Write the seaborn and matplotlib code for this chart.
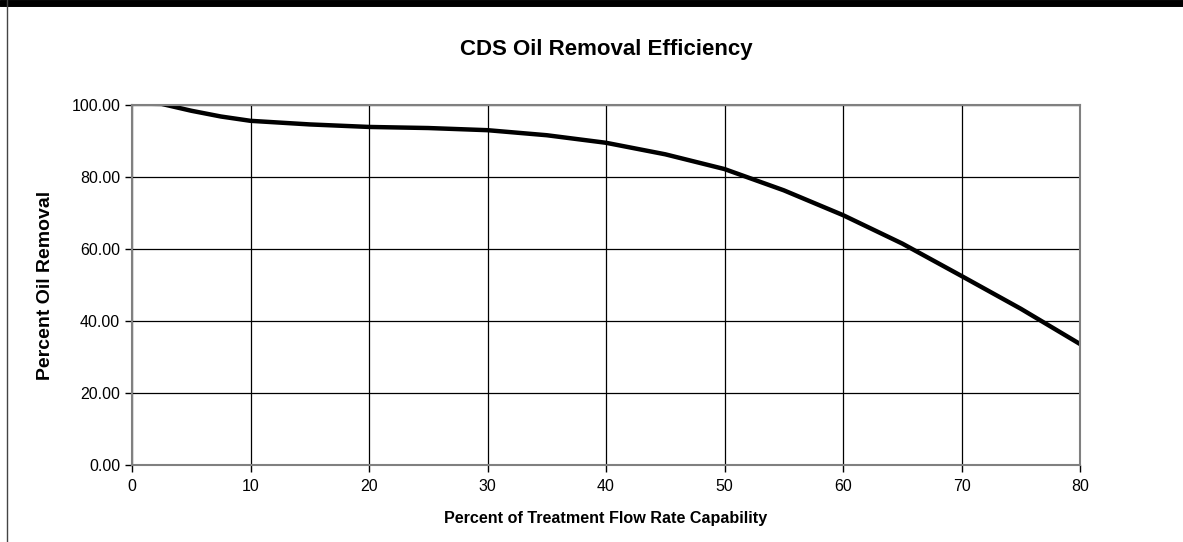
import seaborn as sns
import matplotlib.pyplot as plt
import pandas as pd
from matplotlib.lines import Line2D

# values
flow_pct = [0, 2.5, 5, 7.5, 10, 15, 20, 25, 30, 35, 40, 45, 50, 55, 60, 65, 70, 75, 80]
oil_removal = [100.4, 100.3, 98.4, 96.8, 95.6, 94.6, 93.9, 93.6, 93.0, 91.6, 89.5, 86.3,
               82.2, 76.3, 69.4, 61.5, 52.5, 43.4, 33.6]

x_ticks = [0, 10, 20, 30, 40, 50, 60, 70, 80]
y_ticks = [0, 20, 40, 60, 80, 100]

df = pd.DataFrame({"flow": flow_pct, "removal": oil_removal})

sns.set_style("white")
plt.rcParams['font.family'] = ['Liberation Sans', 'DejaVu Sans']
plt.rcParams['text.color'] = "black"
plt.rcParams['axes.labelcolor'] = "black"
plt.rcParams['xtick.color'] = "black"
plt.rcParams['ytick.color'] = "black"

fig = plt.figure(figsize=(11.83, 5.42), dpi=100)
ax = fig.add_axes([0.1116, 0.142, 0.8014, 0.6643])

sns.lineplot(data=df, x="flow", y="removal", color="black", linewidth=3.2, ax=ax)

ax.set_xlim(0, 80)
ax.set_ylim(0, 100)
ax.set_xticks(x_ticks)
ax.set_yticks(y_ticks)
ax.set_yticklabels([f"{v:.2f}" for v in y_ticks])
ax.tick_params(axis="both", direction="out", length=5, width=1, color="black",
               labelsize=11.5, left=True, bottom=True)
ax.tick_params(axis="x", pad=5)
ax.grid(True, color="black", linewidth=0.9)
ax.set_axisbelow(True)
for side in ax.spines.values():
    side.set_color("#808080")
    side.set_linewidth(1.5)

ax.set_title("CDS Oil Removal Efficiency", fontsize=16, fontweight="bold", pad=36)
ax.set_xlabel("Percent of Treatment Flow Rate Capability", fontsize=11.6, fontweight="bold")
ax.set_ylabel("Percent Oil Removal", fontsize=14, fontweight="bold")
ax.xaxis.set_label_coords(0.5, -0.128)
ax.yaxis.set_label_coords(-0.082, 0.5)

# page border bits
fig.add_artist(Line2D([0, 1], [0.995, 0.995], color="black", linewidth=5, transform=fig.transFigure))
fig.add_artist(Line2D([0.006, 0.006], [0, 1], color="#444444", linewidth=1, transform=fig.transFigure))

fig.savefig("out.png", dpi=100)
